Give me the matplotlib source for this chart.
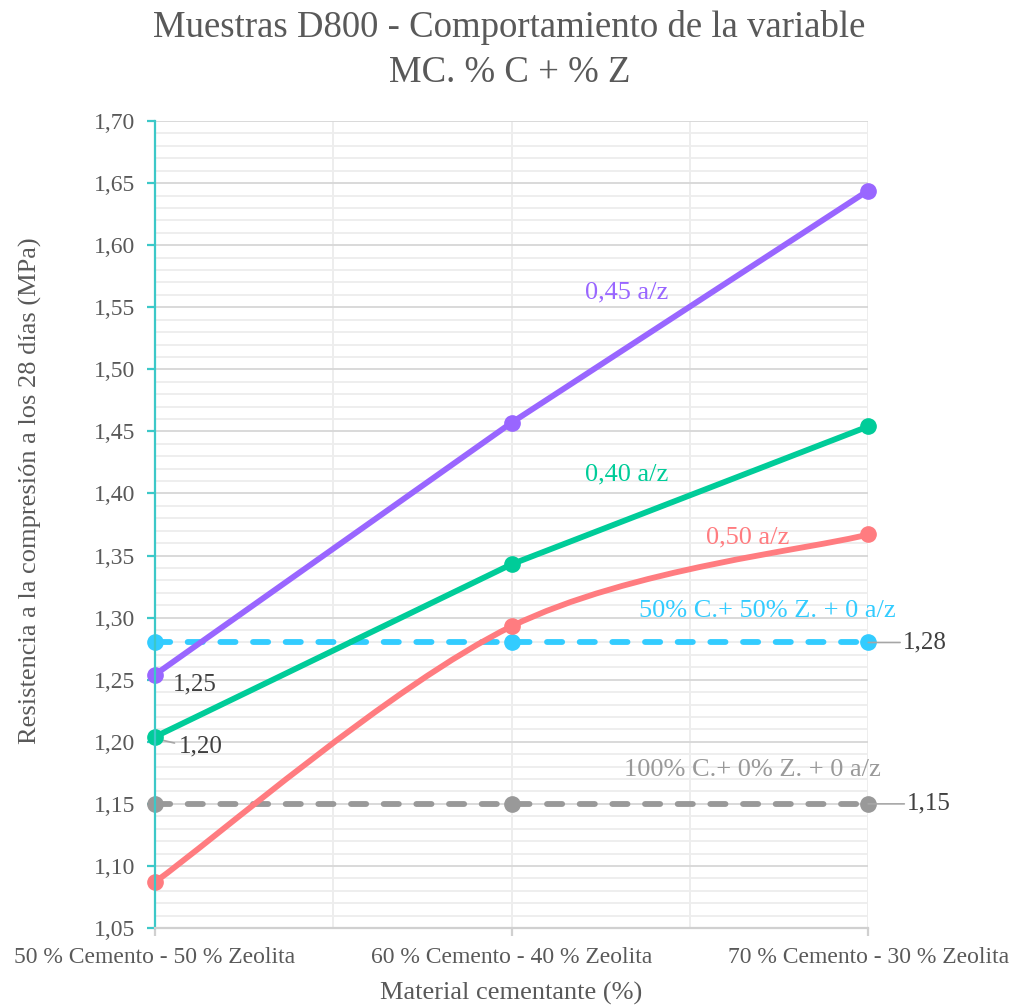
import numpy as np
import matplotlib.pyplot as plt
from matplotlib.path import Path
from matplotlib.patches import PathPatch
from matplotlib.ticker import MultipleLocator, FuncFormatter

plt.rcParams['font.family'] = ['Liberation Serif', 'DejaVu Serif']

categories = ["50 % Cemento - 50 % Zeolita",
              "60 % Cemento - 40 % Zeolita",
              "70 % Cemento - 30 % Zeolita"]
az_045 = [1.254, 1.457, 1.644]
az_040 = [1.204, 1.343, 1.454]
az_050 = [1.087, 1.293, 1.367]
ref_50c = [1.28, 1.28, 1.28]
ref_100c = [1.15, 1.15, 1.15]

PURPLE = '#9966ff'
GREEN = '#00cc99'
RED = '#ff7c80'
CYAN = '#33ccff'
GRAY = '#999999'
TXT = '#595959'
DARK = '#404040'
TEAL = '#3cc8c8'
LW = 4.2
MS = 11


def smooth_path(xs, ys):
    # catmull-rom style bezier through the points (like excel smoothed line)
    pts = list(zip(xs, ys))
    verts = [pts[0]]
    codes = [Path.MOVETO]
    n = len(pts)
    for i in range(n - 1):
        p0 = np.array(pts[i - 1] if i > 0 else pts[i])
        p1 = np.array(pts[i])
        p2 = np.array(pts[i + 1])
        p3 = np.array(pts[i + 2] if i + 2 < n else pts[i + 1])
        c1 = p1 + (p2 - p0) / 6.0
        c2 = p2 - (p3 - p1) / 6.0
        verts += [tuple(c1), tuple(c2), tuple(p2)]
        codes += [Path.CURVE4] * 3
    return Path(verts, codes)


fig = plt.figure(figsize=(10.19, 10.06), dpi=100)
ax = fig.add_axes([0.152, 0.0775, 0.700, 0.8022])

x = np.arange(len(categories))

# grid
ax.set_ylim(1.05, 1.70)
ax.set_xlim(0, 2)
ax.yaxis.set_major_locator(MultipleLocator(0.05))
ax.yaxis.set_minor_locator(MultipleLocator(0.01))
ax.set_xticks(x)
ax.set_xticks([0.5, 1.5], minor=True)
ax.grid(which='major', axis='y', color='#d9d9d9', lw=1.4, zorder=0)
ax.grid(which='minor', axis='y', color='#eeeeee', lw=1.4, zorder=0)
ax.grid(which='both', axis='x', color='#ededed', lw=1.4, zorder=0)
ax.set_axisbelow(True)

# reference lines
ax.plot(x, ref_100c, color=GRAY, lw=LW, dashes=(2.6, 3.0),
        dash_capstyle='round', marker='o', ms=MS, zorder=3, clip_on=False)
ax.plot(x, ref_50c, color=CYAN, lw=LW, dashes=(2.6, 3.0),
        dash_capstyle='round', marker='o', ms=MS, zorder=3, clip_on=False)

# series
ax.add_patch(PathPatch(smooth_path(x, az_050), fill=False, edgecolor=RED,
                       lw=LW, capstyle='round', zorder=4))
ax.plot(x, az_050, 'o', color=RED, ms=MS, zorder=4, clip_on=False)
ax.plot(x, az_040, color=GREEN, lw=LW, marker='o', ms=MS, zorder=5,
        solid_capstyle='round', clip_on=False)
ax.plot(x, az_045, color=PURPLE, lw=LW, marker='o', ms=MS, zorder=6,
        solid_capstyle='round', clip_on=False)

# series labels
fs = 17
sfs = 19
ax.text(1.324, 1.5623, "0,45 a/z", color=PURPLE, fontsize=sfs, ha='center', va='center')
ax.text(1.324, 1.4157, "0,40 a/z", color=GREEN, fontsize=sfs, ha='center', va='center')
ax.text(1.661, 1.3649, "0,50 a/z", color=RED, fontsize=sfs, ha='center', va='center')
ax.text(1.717, 1.3053, "50% C.+ 50% Z. + 0 a/z", color=CYAN, fontsize=sfs,
        ha='center', va='center')
ax.text(1.675, 1.1772, "100% C.+ 0% Z. + 0 a/z", color=GRAY, fontsize=sfs,
        ha='center', va='center')

# data labels
lead = dict(arrowstyle='-', color='#a6a6a6', lw=1.2, shrinkA=0, shrinkB=0)
ax.annotate("1,25", xy=(x[0], az_045[0]), xytext=(13, -7), textcoords='offset points',
            color=DARK, fontsize=18, ha='left', va='center')
ax.annotate("1,20", xy=(x[0], az_040[0]), xytext=(17, -7), textcoords='offset points',
            color=DARK, fontsize=18, ha='left', va='center')
ax.annotate("", xy=(x[0] + 0.01, az_040[0] - 0.002), xytext=(x[0] + 0.055, az_040[0] - 0.005),
            arrowprops=lead)
ax.annotate("1,28", xy=(x[2], ref_50c[2]), xytext=(25, 0), textcoords='offset points',
            color=DARK, fontsize=18, ha='left', va='center',
            arrowprops=lead)
ax.annotate("1,15", xy=(x[2], ref_100c[2]), xytext=(28, 0), textcoords='offset points',
            color=DARK, fontsize=18, ha='left', va='center',
            arrowprops=lead)

# axes styling
for s in ['top', 'right']:
    ax.spines[s].set_visible(False)
ax.spines['left'].set_color(TEAL)
ax.spines['left'].set_linewidth(1.6)
ax.spines['bottom'].set_color('#d0d0d0')
ax.spines['bottom'].set_linewidth(1.6)
ax.tick_params(axis='y', which='major', colors=TEAL, length=6, width=1.6,
               labelcolor=TXT, labelsize=fs, pad=8)
ax.tick_params(axis='y', which='minor', length=0)
ax.tick_params(axis='x', which='major', colors='#d0d0d0', length=6, width=1.6,
               labelcolor=TXT, labelsize=fs, pad=8)
ax.tick_params(axis='x', which='minor', length=0)
ax.yaxis.set_major_formatter(FuncFormatter(lambda v, p: f"{v:.2f}".replace('.', ',')))
ax.set_xticklabels(categories)
for s in ax.spines.values():
    s.set_zorder(7)

ax.set_xlabel("Material cementante (%)", color=TXT, fontsize=19, labelpad=10)
ax.set_ylabel("Resistencia a la compresión a los 28 días (MPa)", color=TXT,
              fontsize=19)
ax.yaxis.set_label_coords(-0.158, 0.5415)
fig.suptitle("Muestras D800 - Comportamiento de la variable\nMC. % C + % Z",
             color=TXT, fontsize=26.5, y=0.99, linespacing=1.4)

fig.savefig("out.png", dpi=100, facecolor='white')
